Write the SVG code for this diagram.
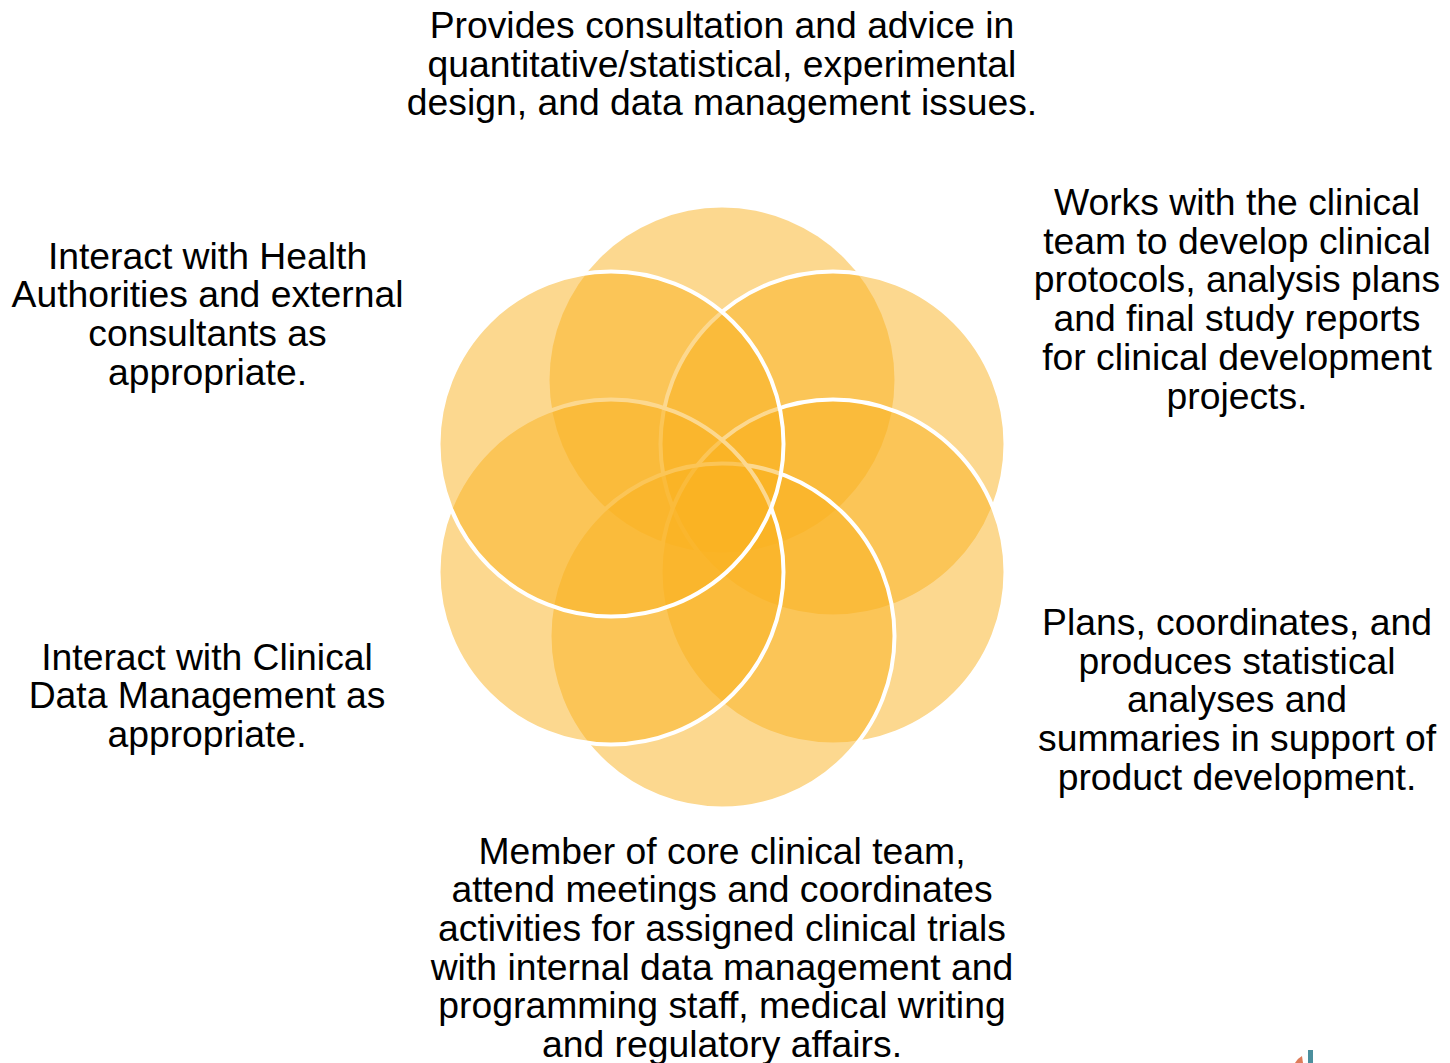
<svg xmlns="http://www.w3.org/2000/svg" width="1450" height="1063" viewBox="0 0 1450 1063">
  <style>
    .petal { fill: #F9B120; fill-opacity: 0.5; stroke: #FFFFFF; stroke-width: 4; }
    .petal-nostroke { fill: #F9B120; fill-opacity: 0.5; stroke: none; }
    .lbl { font-family: "Liberation Sans", Arial, sans-serif; font-size: 37.3px; fill: #000000; text-anchor: middle; }
  </style>
  <rect x="0" y="0" width="1450" height="1063" fill="#FFFFFF"/>
  <g id="flower">
    <circle id="c-top" class="petal-nostroke" cx="722" cy="380" r="172.5"/>
    <circle id="c-top-right" class="petal" cx="833" cy="444" r="172.5"/>
    <circle id="c-bottom-right" class="petal" cx="833" cy="572" r="172.5"/>
    <circle id="c-bottom" class="petal" cx="722" cy="636" r="172.5"/>
    <circle id="c-bottom-left" class="petal" cx="611" cy="572" r="172.5"/>
    <circle id="c-top-left" class="petal" cx="611" cy="444" r="172.5"/>
  </g>
  <g id="connectors"></g>
  <g id="node-top">
    <text class="lbl" x="722" y="38">Provides consultation and advice in</text>
    <text class="lbl" x="722" y="76.7">quantitative/statistical, experimental</text>
    <text class="lbl" x="722" y="115.4">design, and data management issues.</text>
  </g>
  <g id="node-top-right">
    <text class="lbl" x="1237" y="215">Works with the clinical</text>
    <text class="lbl" x="1237" y="253.7">team to develop clinical</text>
    <text class="lbl" x="1237" y="292.4">protocols, analysis plans</text>
    <text class="lbl" x="1237" y="331.1">and final study reports</text>
    <text class="lbl" x="1237" y="369.8">for clinical development</text>
    <text class="lbl" x="1237" y="408.5">projects.</text>
  </g>
  <g id="node-bottom-right">
    <text class="lbl" x="1237" y="635">Plans, coordinates, and</text>
    <text class="lbl" x="1237" y="673.7">produces statistical</text>
    <text class="lbl" x="1237" y="712.4">analyses and</text>
    <text class="lbl" x="1237" y="751.1">summaries in support of</text>
    <text class="lbl" x="1237" y="789.8">product development.</text>
  </g>
  <g id="node-bottom">
    <text class="lbl" x="722" y="863.5">Member of core clinical team,</text>
    <text class="lbl" x="722" y="902.2">attend meetings and coordinates</text>
    <text class="lbl" x="722" y="940.9">activities for assigned clinical trials</text>
    <text class="lbl" x="722" y="979.6">with internal data management and</text>
    <text class="lbl" x="722" y="1018.3">programming staff, medical writing</text>
    <text class="lbl" x="722" y="1057">and regulatory affairs.</text>
  </g>
  <g id="node-bottom-left">
    <text class="lbl" x="207" y="669.5">Interact with Clinical</text>
    <text class="lbl" x="207" y="708.2">Data Management as</text>
    <text class="lbl" x="207" y="746.9">appropriate.</text>
  </g>
  <g id="node-top-left">
    <text class="lbl" x="207.5" y="268.5">Interact with Health</text>
    <text class="lbl" x="207.5" y="307.2">Authorities and external</text>
    <text class="lbl" x="207.5" y="345.9">consultants as</text>
    <text class="lbl" x="207.5" y="384.6">appropriate.</text>
  </g>
  <g id="logo-fragment" opacity="0.85">
    <rect x="1308" y="1050" width="5" height="13" fill="#2C7C8C"/>
    <path d="M1295,1063 Q1298,1058 1302,1056 L1303,1063 Z" fill="#D9663E"/>
  </g>
</svg>
